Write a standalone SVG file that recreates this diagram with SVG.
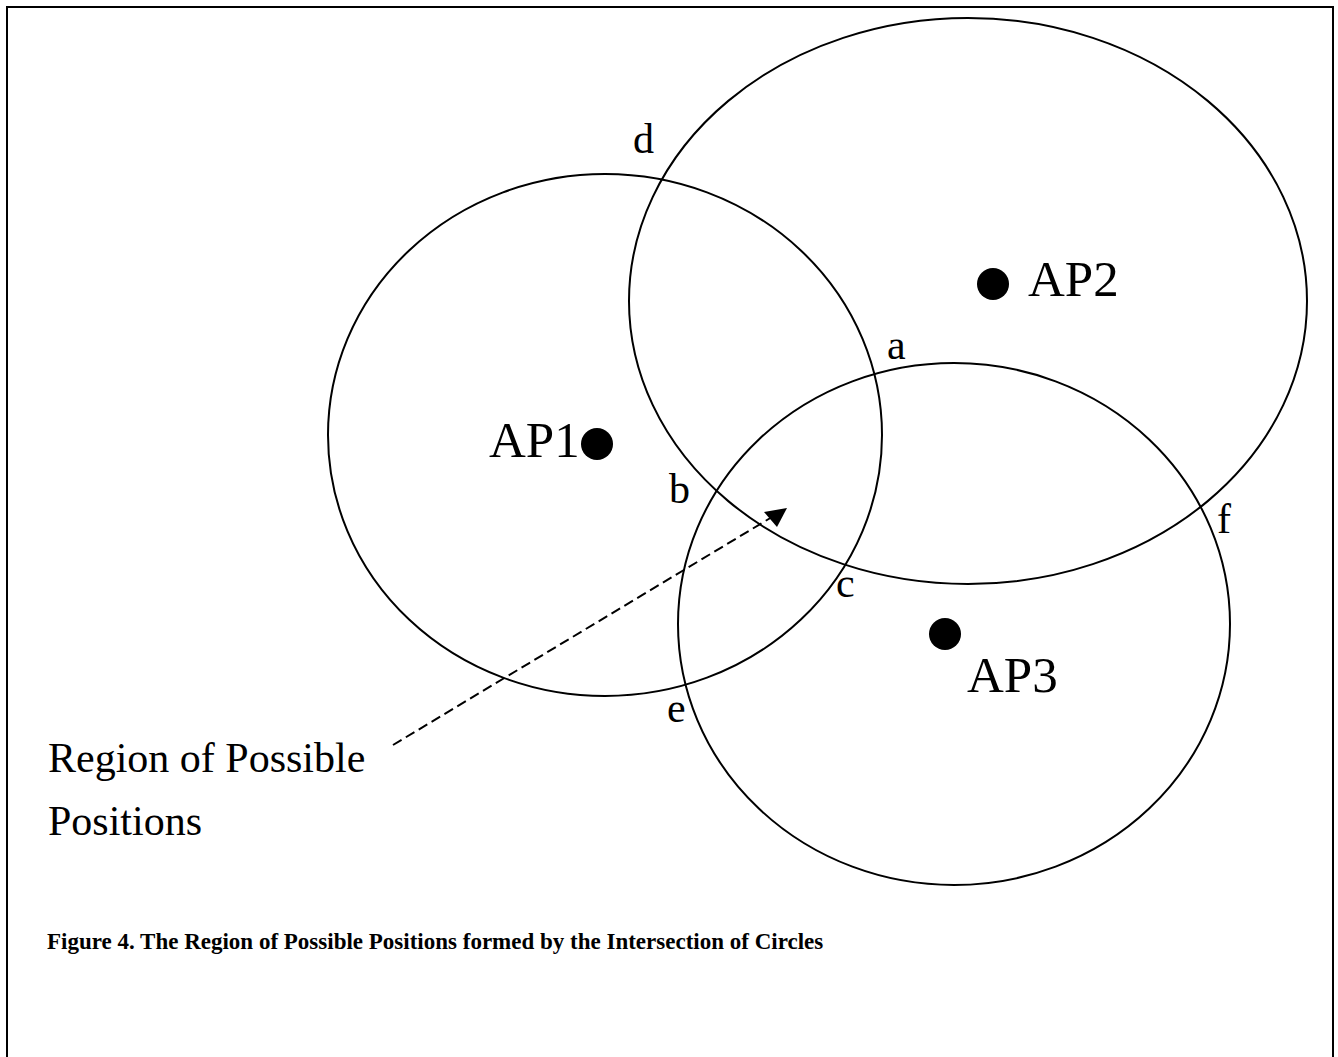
<svg xmlns="http://www.w3.org/2000/svg" width="1338" height="1057" viewBox="0 0 1338 1057">
<style>
.c{fill:none;stroke:#000;stroke-width:2}
.dot{fill:#000}
.lbl{font-family:"Liberation Serif","Times New Roman",serif;fill:#000}
.ap{font-size:51px}
.pt{font-size:42px}
.cap{font-family:"Liberation Serif","Times New Roman",serif;font-size:23px;font-weight:bold;fill:#000}
</style>
<rect x="7" y="7" width="1326" height="1060" fill="#fff" stroke="#000" stroke-width="2"/>
<g id="circle-ap1"><ellipse class="c" cx="605" cy="435" rx="277" ry="261"/></g>
<g id="circle-ap2"><ellipse class="c" cx="968" cy="301" rx="339" ry="283"/></g>
<g id="circle-ap3"><ellipse class="c" cx="954" cy="624" rx="276" ry="261"/></g>
<g id="ap1"><circle class="dot" cx="597" cy="444" r="16"/><text class="lbl ap" x="489" y="457">AP1</text></g>
<g id="ap2"><circle class="dot" cx="993" cy="284" r="16"/><text class="lbl ap" x="1028" y="296">AP2</text></g>
<g id="ap3"><circle class="dot" cx="945" cy="634" r="16"/><text class="lbl ap" x="967" y="692">AP3</text></g>
<g id="points">
<text class="lbl pt" x="633" y="153">d</text>
<text class="lbl pt" x="887" y="359">a</text>
<text class="lbl pt" x="669" y="503">b</text>
<text class="lbl pt" x="836" y="597">c</text>
<text class="lbl pt" x="667" y="722">e</text>
<text class="lbl pt" x="1217" y="533">f</text>
</g>
<g id="region-label"><text class="lbl pt" x="48" y="772">Region of Possible</text><text class="lbl pt" x="48" y="835">Positions</text></g>
<g id="connectors">
<line x1="393" y1="745" x2="772" y2="517" stroke="#000" stroke-width="2" stroke-dasharray="10,5"/>
<polygon points="764,512 787,508 777,527" fill="#000"/>
</g>
<text class="cap" x="47" y="949">Figure 4. The Region of Possible Positions formed by the Intersection of Circles</text>
</svg>
